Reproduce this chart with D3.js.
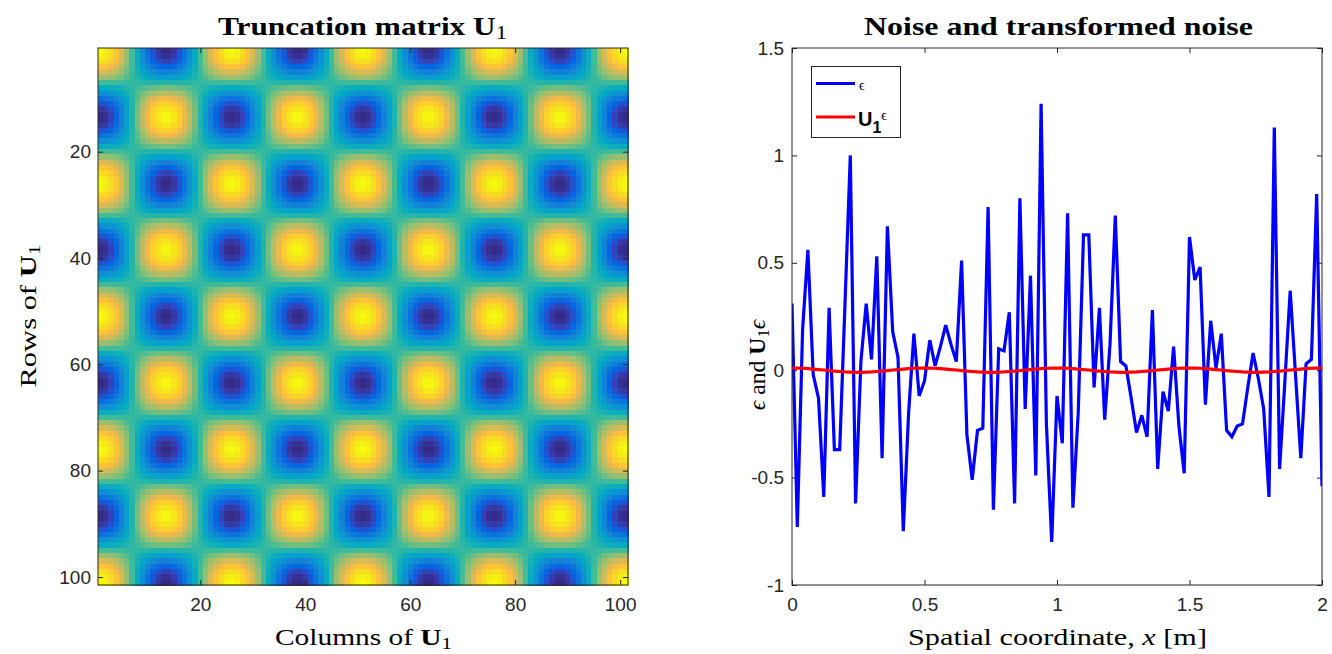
<!DOCTYPE html>
<html>
<head>
<meta charset="utf-8">
<script src="https://cdn.jsdelivr.net/npm/d3@7"></script>
<style>
  body { margin: 0; background: #ffffff; }
  svg { display: block; }
  .tick text { font-family: "Liberation Sans", Arial, sans-serif; font-size: 19px; fill: #262626; }
  .tick line { stroke: #262626; stroke-width: 1; }
</style>
</head>
<body>
<svg id="fig" width="1332" height="654"></svg>
<script>
// Retained mode shape (one value per grid node, 101 nodes); the truncation
// matrix is the outer product of this shape with itself.
const modeShape = [
  1.00, 0.97, 0.88, 0.73, 0.54, 0.31, 0.06, -0.19, -0.43, -0.64, -0.81, -0.93, -0.99,
  -0.99, -0.93, -0.81, -0.64, -0.43, -0.19, 0.06, 0.31, 0.54, 0.73, 0.88, 0.97,
  1.00, 0.97, 0.88, 0.73, 0.54, 0.31, 0.06, -0.19, -0.43, -0.64, -0.81, -0.93, -0.99,
  -0.99, -0.93, -0.81, -0.64, -0.43, -0.19, 0.06, 0.31, 0.54, 0.73, 0.88, 0.97,
  1.00, 0.97, 0.88, 0.73, 0.54, 0.31, 0.06, -0.19, -0.43, -0.64, -0.81, -0.93, -0.99,
  -0.99, -0.93, -0.81, -0.64, -0.43, -0.19, 0.06, 0.31, 0.54, 0.73, 0.88, 0.97,
  1.00, 0.97, 0.88, 0.73, 0.54, 0.31, 0.06, -0.19, -0.43, -0.64, -0.81, -0.93, -0.99,
  -0.99, -0.93, -0.81, -0.64, -0.43, -0.19, 0.06, 0.31, 0.54, 0.73, 0.88, 0.97,
  1.00
];

// Spatial grid: 101 nodes from 0 to 2 m
const xStart = 0;
const xStep = 0.02;

// Noise realisation epsilon at each node
const noise = [
  0.31, -0.73, 0.19, 0.56, -0.02, -0.13, -0.59, 0.29, -0.37, -0.37,
  0.31, 1.00, -0.62, 0.04, 0.31, 0.05, 0.53, -0.41, 0.67, 0.18,
  0.06, -0.75, -0.20, 0.17, -0.12, -0.05, 0.14, 0.02, 0.11, 0.21,
  0.12, 0.04, 0.51, -0.30, -0.51, -0.28, -0.27, 0.76, -0.65, 0.10,
  0.09, 0.27, -0.62, 0.80, -0.18, 0.44, -0.49, 1.24, -0.25, -0.80,
  -0.12, -0.34, 0.73, -0.64, -0.20, 0.63, 0.63, -0.08, 0.29, -0.23,
  0.12, 0.72, 0.04, 0.02, -0.13, -0.29, -0.21, -0.31, 0.28, -0.46,
  -0.10, -0.19, 0.11, -0.26, -0.48, 0.62, 0.42, 0.48, -0.16, 0.23,
  0.01, 0.17, -0.28, -0.31, -0.26, -0.25, -0.08, 0.08, -0.04, -0.18,
  -0.59, 1.13, -0.46, -0.05, 0.37, -0.02, -0.41, 0.03, 0.05, 0.82,
  -0.54
];

// Transformed noise U1 * epsilon
const transformed = [
  0.010, 0.010, 0.009, 0.007, 0.005, 0.003, 0.001, -0.002, -0.004, -0.006, -0.008, -0.009, -0.010,
  -0.010, -0.009, -0.008, -0.006, -0.004, -0.002, 0.001, 0.003, 0.005, 0.007, 0.009, 0.010,
  0.010, 0.010, 0.009, 0.007, 0.005, 0.003, 0.001, -0.002, -0.004, -0.006, -0.008, -0.009, -0.010,
  -0.010, -0.009, -0.008, -0.006, -0.004, -0.002, 0.001, 0.003, 0.005, 0.007, 0.009, 0.010,
  0.010, 0.010, 0.009, 0.007, 0.005, 0.003, 0.001, -0.002, -0.004, -0.006, -0.008, -0.009, -0.010,
  -0.010, -0.009, -0.008, -0.006, -0.004, -0.002, 0.001, 0.003, 0.005, 0.007, 0.009, 0.010,
  0.010, 0.010, 0.009, 0.007, 0.005, 0.003, 0.001, -0.002, -0.004, -0.006, -0.008, -0.009, -0.010,
  -0.010, -0.009, -0.008, -0.006, -0.004, -0.002, 0.001, 0.003, 0.005, 0.007, 0.009, 0.010,
  0.010
];

const matrixTicks = [20, 40, 60, 80, 100];
const xTicks = [0, 0.5, 1, 1.5, 2];
const yTicks = [-1, -0.5, 0, 0.5, 1, 1.5];
const xDomain = [0, 2];
const yDomain = [-1, 1.5];

// Parula colormap (64 entries)
const parula = [
  [0.2081,0.1663,0.5292],[0.2116,0.1898,0.5777],[0.2123,0.2138,0.6270],[0.2081,0.2386,0.6771],
  [0.1959,0.2645,0.7279],[0.1707,0.2919,0.7792],[0.1253,0.3242,0.8303],[0.0591,0.3598,0.8683],
  [0.0117,0.3875,0.8820],[0.0060,0.4086,0.8828],[0.0165,0.4266,0.8786],[0.0329,0.4430,0.8720],
  [0.0498,0.4586,0.8641],[0.0629,0.4737,0.8554],[0.0723,0.4887,0.8467],[0.0779,0.5040,0.8384],
  [0.0793,0.5200,0.8312],[0.0749,0.5375,0.8263],[0.0641,0.5570,0.8240],[0.0488,0.5772,0.8228],
  [0.0343,0.5966,0.8199],[0.0265,0.6137,0.8135],[0.0239,0.6287,0.8038],[0.0231,0.6418,0.7913],
  [0.0228,0.6535,0.7768],[0.0267,0.6642,0.7607],[0.0384,0.6743,0.7436],[0.0590,0.6838,0.7254],
  [0.0843,0.6928,0.7062],[0.1133,0.7015,0.6859],[0.1453,0.7098,0.6646],[0.1801,0.7177,0.6424],
  [0.2178,0.7250,0.6193],[0.2586,0.7317,0.5954],[0.3022,0.7376,0.5712],[0.3482,0.7424,0.5473],
  [0.3953,0.7459,0.5244],[0.4420,0.7481,0.5033],[0.4871,0.7491,0.4840],[0.5300,0.7491,0.4661],
  [0.5709,0.7485,0.4494],[0.6099,0.7473,0.4337],[0.6473,0.7456,0.4188],[0.6834,0.7435,0.4044],
  [0.7184,0.7411,0.3905],[0.7525,0.7384,0.3768],[0.7858,0.7356,0.3633],[0.8185,0.7327,0.3498],
  [0.8507,0.7299,0.3360],[0.8824,0.7274,0.3217],[0.9139,0.7258,0.3063],[0.9450,0.7261,0.2886],
  [0.9739,0.7314,0.2666],[0.9938,0.7455,0.2403],[0.9990,0.7653,0.2164],[0.9955,0.7861,0.1967],
  [0.9880,0.8066,0.1794],[0.9789,0.8271,0.1633],[0.9697,0.8481,0.1475],[0.9626,0.8705,0.1309],
  [0.9589,0.8949,0.1132],[0.9598,0.9218,0.0948],[0.9661,0.9514,0.0755],[0.9763,0.9831,0.0538]
].map(c => d3.rgb(c[0] * 255, c[1] * 255, c[2] * 255).formatHex());

const svg = d3.select("#fig");
const axisColor = "#262626";
const serif = "'Liberation Serif', 'DejaVu Serif', serif";
const sans = "'Liberation Sans', Arial, sans-serif";
const plainNumber = d => String(d);

// ---------- Left panel: truncation matrix ----------
const L = { left: 98, right: 628, top: 48, bottom: 585 };
const n = modeShape.length;
const idx = d3.range(1, n + 1);
const cx = d3.scaleBand().domain(idx).range([L.left, L.right]);
const cy = d3.scaleBand().domain(idx).range([L.top, L.bottom]);
const cells = [];
modeShape.forEach((ri, r) => modeShape.forEach((cj, c) => cells.push({ r: r + 1, c: c + 1, v: ri * cj })));
const vExt = d3.extent(cells, d => d.v);
const color = d3.scaleLinear()
  .domain(parula.map((_, k) => vExt[0] + k * (vExt[1] - vExt[0]) / (parula.length - 1)))
  .range(parula)
  .interpolate(d3.interpolateRgb);

const gL = svg.append("g");
gL.append("g").selectAll("rect").data(cells).join("rect")
  .attr("x", d => cx(d.c))
  .attr("y", d => cy(d.r))
  .attr("width", cx.bandwidth() + 0.6)
  .attr("height", cy.bandwidth() + 0.6)
  .attr("fill", d => color(d.v))
  .attr("shape-rendering", "crispEdges");

// Linear scales through the cell centres, used for the ticks
const ccx = d3.scaleLinear().domain([0.5, n + 0.5]).range([L.left, L.right]);
const ccy = d3.scaleLinear().domain([0.5, n + 0.5]).range([L.top, L.bottom]);
const tl = 5;
gL.append("g").attr("transform", `translate(0,${L.bottom})`)
  .call(d3.axisBottom(ccx).tickValues(matrixTicks).tickSizeInner(-tl).tickSizeOuter(0).tickPadding(13))
  .call(g => g.select(".domain").remove());
gL.append("g").attr("transform", `translate(0,${L.top})`)
  .call(d3.axisTop(ccx).tickValues(matrixTicks).tickSizeInner(-tl).tickSizeOuter(0).tickFormat(""))
  .call(g => g.select(".domain").remove());
gL.append("g").attr("transform", `translate(${L.left},0)`)
  .call(d3.axisLeft(ccy).tickValues(matrixTicks).tickSizeInner(-tl).tickSizeOuter(0).tickPadding(7))
  .call(g => g.select(".domain").remove());
gL.append("g").attr("transform", `translate(${L.right},0)`)
  .call(d3.axisRight(ccy).tickValues(matrixTicks).tickSizeInner(-tl).tickSizeOuter(0).tickFormat(""))
  .call(g => g.select(".domain").remove());
gL.append("rect").attr("x", L.left).attr("y", L.top)
  .attr("width", L.right - L.left).attr("height", L.bottom - L.top)
  .attr("fill", "none").attr("stroke", axisColor).attr("stroke-width", 1);

// ---------- Right panel: noise and transformed noise ----------
const R = { left: 792, right: 1322, top: 48, bottom: 585 };
const x = d3.scaleLinear().domain(xDomain).range([R.left, R.right]);
const y = d3.scaleLinear().domain(yDomain).range([R.bottom, R.top]);
const gR = svg.append("g");

gR.append("g").attr("transform", `translate(0,${R.bottom})`)
  .call(d3.axisBottom(x).tickValues(xTicks).tickFormat(plainNumber).tickSizeInner(-tl).tickSizeOuter(0).tickPadding(13))
  .call(g => g.select(".domain").remove());
gR.append("g").attr("transform", `translate(0,${R.top})`)
  .call(d3.axisTop(x).tickValues(xTicks).tickSizeInner(-tl).tickSizeOuter(0).tickFormat(""))
  .call(g => g.select(".domain").remove());
gR.append("g").attr("transform", `translate(${R.left},0)`)
  .call(d3.axisLeft(y).tickValues(yTicks).tickFormat(plainNumber).tickSizeInner(-tl).tickSizeOuter(0).tickPadding(8))
  .call(g => g.select(".domain").remove());
gR.append("g").attr("transform", `translate(${R.right},0)`)
  .call(d3.axisRight(y).tickValues(yTicks).tickSizeInner(-tl).tickSizeOuter(0).tickFormat(""))
  .call(g => g.select(".domain").remove());

svg.append("clipPath").attr("id", "plotClip").append("rect")
  .attr("x", R.left).attr("y", R.top).attr("width", R.right - R.left).attr("height", R.bottom - R.top);

const line = d3.line().x((d, i) => x(xStart + i * xStep)).y(d => y(d));
gR.append("path").datum(noise).attr("d", line)
  .attr("fill", "none").attr("stroke", "#0000ff").attr("stroke-width", 3.2)
  .attr("stroke-linejoin", "miter").attr("stroke-miterlimit", 2)
  .attr("clip-path", "url(#plotClip)");
gR.append("path").datum(transformed).attr("d", line)
  .attr("fill", "none").attr("stroke", "#ff0000").attr("stroke-width", 3.2)
  .attr("clip-path", "url(#plotClip)");

gR.append("rect").attr("x", R.left).attr("y", R.top)
  .attr("width", R.right - R.left).attr("height", R.bottom - R.top)
  .attr("fill", "none").attr("stroke", axisColor).attr("stroke-width", 1);

// Legend
const lg = gR.append("g");
lg.append("rect").attr("x", 811.5).attr("y", 66.5).attr("width", 89).attr("height", 71)
  .attr("fill", "#ffffff").attr("stroke", axisColor).attr("stroke-width", 1);
lg.append("line").attr("x1", 816).attr("x2", 855).attr("y1", 83.5).attr("y2", 83.5)
  .attr("stroke", "#0000ff").attr("stroke-width", 3.2);
lg.append("line").attr("x1", 816).attr("x2", 855).attr("y1", 117).attr("y2", 117)
  .attr("stroke", "#ff0000").attr("stroke-width", 3.2);
lg.append("text").attr("x", 859).attr("y", 90).attr("font-family", serif).attr("font-size", 14)
  .attr("fill", "#000").text("\u03F5");
const lt = lg.append("text").attr("x", 858).attr("y", 126).attr("font-family", sans)
  .attr("fill", "#000");
lt.append("tspan").attr("font-weight", "bold").attr("font-size", 20).text("U");
lt.append("tspan").attr("font-weight", "bold").attr("font-size", 16).attr("dy", 7).text("1");
lt.append("tspan").attr("font-family", serif).attr("font-size", 14).attr("dy", -13).text("\u03F5");

// ---------- Titles and axis labels ----------
// Builds a centred text from styled runs and stretches it to the given width.
function richText(parent, xPos, yPos, parts, opts) {
  const t = parent.append("text")
    .attr("x", xPos).attr("y", yPos)
    .attr("text-anchor", "middle")
    .attr("font-family", serif)
    .attr("font-size", opts.size)
    .attr("fill", "#000");
  parts.forEach(p => {
    const s = t.append("tspan").text(p.text);
    if (p.bold) s.attr("font-weight", "bold");
    if (p.italic) s.attr("font-style", "italic");
    if (p.size) s.attr("font-size", p.size);
    if (p.dy) s.attr("dy", p.dy);
  });
  const bb = t.node().getBBox();
  const sx = opts.width / bb.width;
  const mid = bb.x + bb.width / 2;
  let tf = `translate(${mid},0) scale(${sx},1) translate(${-mid},0)`;
  if (opts.rotate) tf = `rotate(-90,${xPos},${yPos}) ` + tf;
  t.attr("transform", tf);
  return t;
}

richText(svg, 362.5, 35, [
  { text: "Truncation matrix ", bold: true },
  { text: "U", bold: true },
  { text: "1", size: 18, dy: 4 }
], { size: 25, width: 289 });

richText(svg, 1058.5, 35, [
  { text: "Noise and transformed noise", bold: true }
], { size: 25, width: 389 });

richText(svg, 363.5, 645, [
  { text: "Columns of " },
  { text: "U", bold: true },
  { text: "1", size: 17, dy: 4 }
], { size: 24, width: 177 });

richText(svg, 1057.5, 645, [
  { text: "Spatial coordinate, " },
  { text: "x", italic: true },
  { text: " [m]" }
], { size: 24, width: 299 });

richText(svg, 36, 316, [
  { text: "Rows of " },
  { text: "U", bold: true },
  { text: "1", size: 17, dy: 4 }
], { size: 24, width: 143, rotate: true });

richText(svg, 765, 365, [
  { text: "\u03F5", italic: true },
  { text: " and " },
  { text: "U", bold: true },
  { text: "1", size: 17, dy: 4 },
  { text: "\u03F5", italic: true, dy: -4 }
], { size: 24, width: 92, rotate: true });
</script>
</body>
</html>
